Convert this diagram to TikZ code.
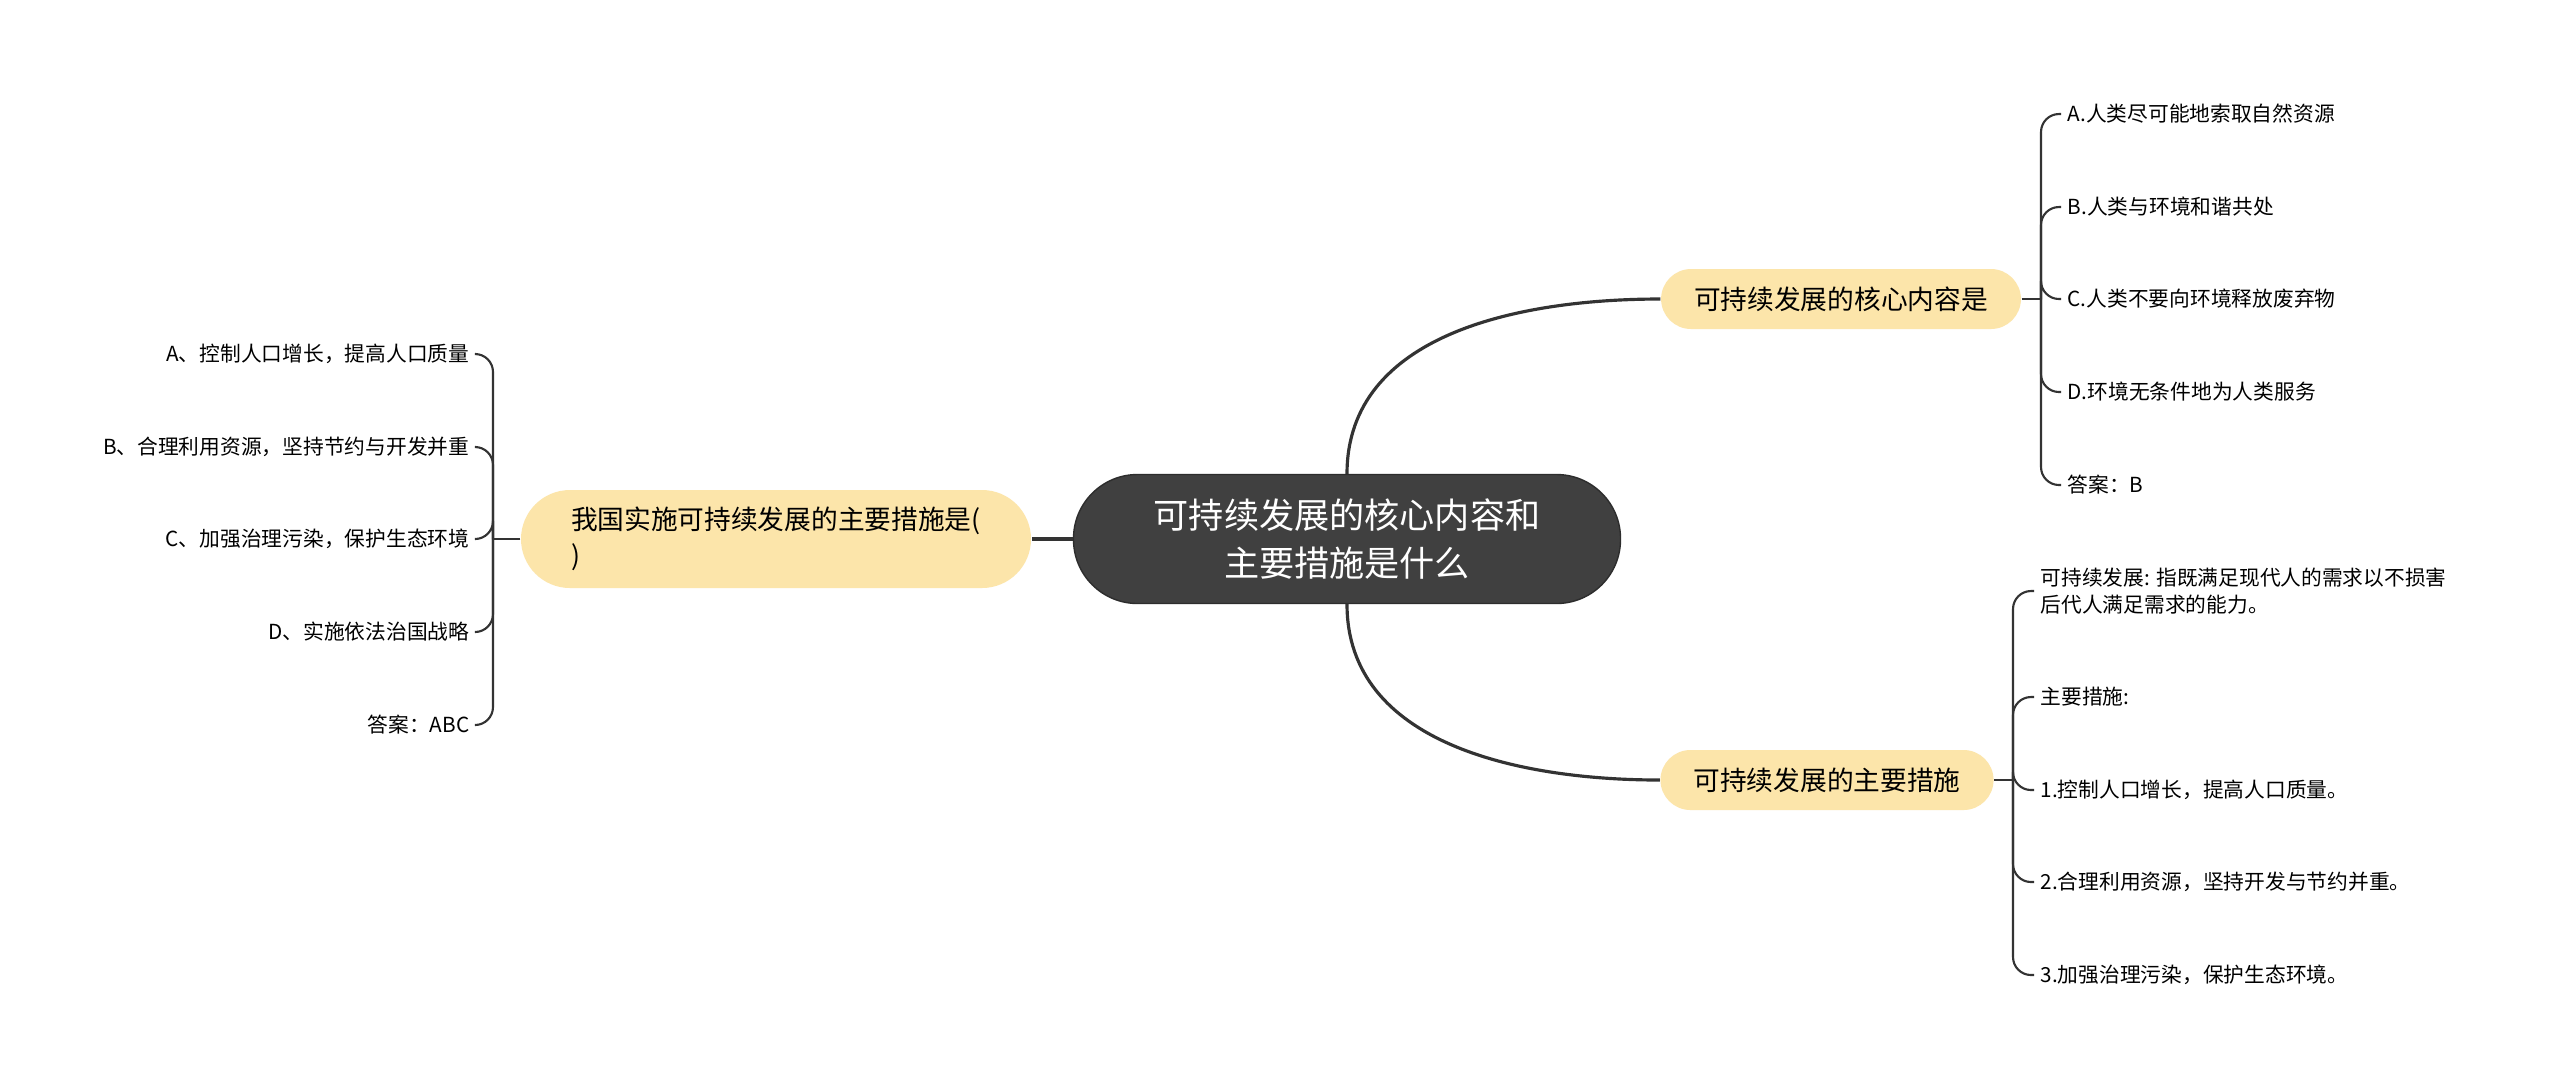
\documentclass[tikz,border=0pt]{standalone}
\usepackage{fontspec}
\newfontfamily\cjk{Noto Sans CJK SC}
\usepackage{tikz}

\definecolor{rootgray}{RGB}{64,64,64}
\definecolor{branchyellow}{RGB}{252,229,170}
\definecolor{linegray}{RGB}{51,51,51}

\begin{document}
\begin{tikzpicture}[
    root/.style={rectangle, rounded corners=0.64cm, fill=rootgray, draw=rootgray!70!black, text=white, align=center,
        font=\cjk\fontsize{10}{13.5}\selectfont, minimum width=5.47cm, minimum height=1.29cm},
    branch/.style={rectangle, rounded corners=0.3cm, fill=branchyellow, font=\cjk\fontsize{7.6}{10.2}\selectfont,
        inner xsep=0.33cm, minimum height=0.6cm},
    leaf/.style={font=\cjk\fontsize{5.9}{7.5}\selectfont, inner sep=0.06cm},
    link/.style={draw=linegray, line width=0.9pt},
    twig/.style={draw=linegray, line width=0.6pt, rounded corners=0.18cm}
]
            \fill[white] (0,0) rectangle (25.6,-10.87);

            % centre and main branches
            \node[root] (C) at (13.47,-5.39) {可持续发展的核心内容和\\主要措施是什么};
            \node[branch] (R1) at (18.41,-2.99) {可持续发展的核心内容是};
            \node[branch] (R2) at (18.27,-7.80) {可持续发展的主要措施};
            \node[branch, rounded corners=0.49cm, minimum height=0.98cm, text width=4.1cm, inner xsep=0.5cm, align=left]
                (L) at (7.76,-5.39) {我国实施可持续发展的主要措施是(\\)};

            \draw[link] (C.north) to[out=90, in=180] (R1.west);
            \draw[link] (C.south) to[out=-90, in=180] (R2.west);
            \draw[link] (C.west) -- (L.east);

            % core content options
            \coordinate (J1) at (20.41,-2.99);
            \node[leaf, anchor=west] (r1a) at (20.61,-1.14) {A.人类尽可能地索取自然资源};
            \node[leaf, anchor=west] (r1b) at (20.61,-2.07) {B.人类与环境和谐共处};
            \node[leaf, anchor=west] (r1c) at (20.61,-2.99) {C.人类不要向环境释放废弃物};
            \node[leaf, anchor=west] (r1d) at (20.61,-3.92) {D.环境无条件地为人类服务};
            \node[leaf, anchor=west] (r1e) at (20.61,-4.85) {答案：B};
            \draw[twig] (R1.east) -- (J1);
            \foreach \n in {r1a,r1b,r1c,r1d,r1e}
                \draw[twig] (J1) |- (\n.west);

            % main measures
            \coordinate (J2) at (20.13,-7.80);
            \node[leaf, anchor=west, align=left] (r2a) at (20.34,-5.91) {可持续发展: 指既满足现代人的需求以不损害\\后代人满足需求的能力。};
            \node[leaf, anchor=west] (r2b) at (20.34,-6.97) {主要措施:};
            \node[leaf, anchor=west] (r2c) at (20.34,-7.90) {1.控制人口增长，提高人口质量。};
            \node[leaf, anchor=west] (r2d) at (20.34,-8.82) {2.合理利用资源，坚持开发与节约并重。};
            \node[leaf, anchor=west] (r2e) at (20.34,-9.75) {3.加强治理污染，保护生态环境。};
            \draw[twig] (R2.east) -- (J2);
            \foreach \n in {r2a,r2b,r2c,r2d,r2e}
                \draw[twig] (J2) |- (\n.west);

            % question on the left
            \coordinate (JL) at (4.93,-5.39);
            \node[leaf, anchor=east] (la) at (4.76,-3.54) {A、控制人口增长，提高人口质量};
            \node[leaf, anchor=east] (lb) at (4.76,-4.47) {B、合理利用资源，坚持节约与开发并重};
            \node[leaf, anchor=east] (lc) at (4.76,-5.39) {C、加强治理污染，保护生态环境};
            \node[leaf, anchor=east] (ld) at (4.76,-6.32) {D、实施依法治国战略};
            \node[leaf, anchor=east] (le) at (4.76,-7.25) {答案：ABC};
            \draw[twig] (L.west) -- (JL);
            \foreach \n in {la,lb,lc,ld,le}
                \draw[twig] (JL) |- (\n.east);
        \end{tikzpicture}
\end{document}
